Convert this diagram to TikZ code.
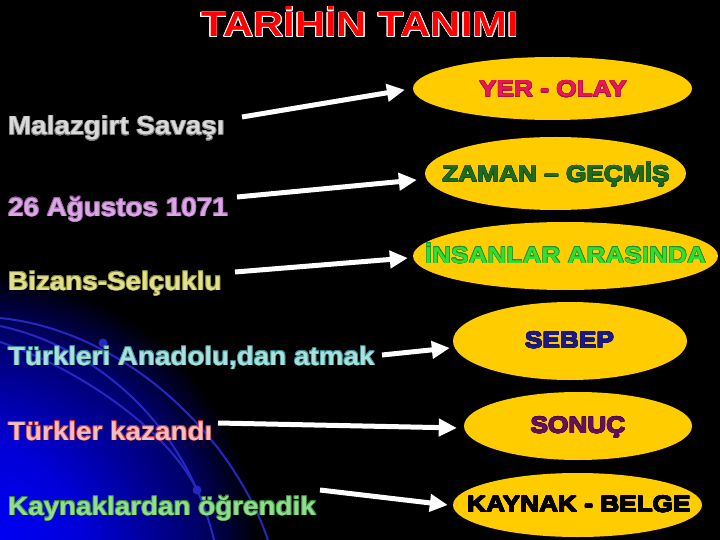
\documentclass[tikz,border=0pt]{standalone}
\usepackage{fontspec}
\usepackage[copies]{contour}
\usetikzlibrary{shapes.geometric,arrows.meta}
\newfontfamily\titlefont[FakeStretch=1.19]{Liberation Sans Bold}
\newfontfamily\ovalfont[FakeStretch=1.14]{Liberation Sans Bold}
\newfontfamily\leftfont[FakeStretch=1.07]{Liberation Sans Bold}
\definecolor{gold}{HTML}{FFCC00}
\definecolor{yerc}{HTML}{E8175D}
\definecolor{zamanc}{HTML}{1F6B1F}
\definecolor{insanc}{HTML}{33DD33}
\definecolor{sebepc}{HTML}{1A1A8C}
\definecolor{sonucc}{HTML}{66105E}
\definecolor{arcc}{HTML}{2626C0}
\definecolor{lA}{HTML}{D9D9D9}\definecolor{lAo}{HTML}{7A7A7A}
\definecolor{lB}{HTML}{D8A8E0}\definecolor{lBo}{HTML}{9A5AA8}
\definecolor{lC}{HTML}{E0E090}\definecolor{lCo}{HTML}{8A8A30}
\definecolor{lD}{HTML}{A8E0E0}\definecolor{lDo}{HTML}{3A8A8A}
\definecolor{lE}{HTML}{F0C0C0}\definecolor{lEo}{HTML}{C03040}
\definecolor{lF}{HTML}{90DD90}\definecolor{lFo}{HTML}{3A8A3A}
\contourlength{0.7pt}
\pgfdeclareradialshading{glow}{\pgfpoint{0bp}{0bp}}{color(0bp)=(blue); color(10bp)=(blue!85!black); color(20bp)=(blue!40!black); color(25bp)=(black); color(50bp)=(black)}
\tikzset{
  oval/.style={ellipse, fill=gold, draw=none, inner sep=0pt},
  otext/.style={font=\ovalfont\fontsize{23}{23}\selectfont, inner sep=0pt, anchor=base},
  ltext/.style={font=\leftfont\fontsize{26}{26}\selectfont, inner sep=0pt, anchor=base west},
  arr/.style={draw=white, line width=5pt, -{Triangle[length=18pt,width=17pt]}},
  arcline/.style={draw=arcc, line width=2pt}
}
\begin{document}
\begin{tikzpicture}[x=1pt,y=-1pt]
\useasboundingbox (0,0) rectangle (720,540);
\fill[black] (0,0) rectangle (720,540);
\begin{scope}
  \clip (0,0) rectangle (720,540);
  \shade[shading=glow] (-30,560) circle (290pt);
  \draw[arcline] (0,318) .. controls (120,330) and (230,430) .. (268,540);
  \draw[arcline] (0,326) .. controls (90,345) and (185,420) .. (214,540);
  \draw[arcline] (0,342) .. controls (70,365) and (165,425) .. (197,490);
  \fill[arcc] (103,343) circle (4.5pt);
  \fill[arcc] (197,490) circle (4.5pt);
\end{scope}

% title
\node[font=\titlefont\fontsize{35}{35}\selectfont, text=red, anchor=base, inner sep=0pt] (title) at (360,37) {\contourlength{0.6pt}\contour{white}{TARİHİN TANIMI}};

% left texts
\node[ltext, text=lA] (l1) at (8,135) {\contour{lAo}{Malazgirt Savaşı}};
\node[ltext, text=lB] (l2) at (8,216) {\contour{lBo}{26 Ağustos 1071}};
\node[ltext, text=lC] (l3) at (8,290) {\contour{lCo}{Bizans-Selçuklu}};
\node[ltext, text=lD] (l4) at (8,365) {\contour{lDo}{Türkleri Anadolu,dan atmak}};
\node[ltext, text=lE] (l5) at (8,440) {\contour{lEo}{Türkler kazandı}};
\node[ltext, text=lF] (l6) at (8,515) {\contour{lFo}{Kaynaklardan öğrendik}};

% ellipses
\node[oval, minimum width=279pt, minimum height=63pt] (e1) at (552.5,88.5) {};
\node[oval, minimum width=261pt, minimum height=73pt] (e2) at (555.5,173.5) {};
\node[oval, minimum width=305pt, minimum height=68pt] (e3) at (565.5,256) {};
\node[oval, minimum width=234pt, minimum height=78pt] (e4) at (570,341) {};
\node[oval, minimum width=228pt, minimum height=68pt] (e5) at (578,426) {};
\node[oval, minimum width=249pt, minimum height=64pt] (e6) at (577.5,505) {};

\node[otext, text=yerc] (t1) at (553,97) {\contourlength{0.45pt}\contour{yerc!75!black}{YER - OLAY}};
\node[otext, text=zamanc] (t2) at (556,182) {\contourlength{0.45pt}\contour{zamanc!75!black}{ZAMAN – GEÇMİŞ}};
\node[otext, text=insanc] (t3) at (565.5,263) {\contourlength{0.45pt}\contour{insanc!65!black}{İNSANLAR ARASINDA}};
\node[otext, text=sebepc] (t4) at (569.5,348) {\contourlength{0.45pt}\contour{sebepc!75!black}{SEBEP}};
\node[otext, text=sonucc] (t5) at (578,433) {\contourlength{0.45pt}\contour{sonucc!75!black}{SONUÇ}};
\node[otext, text=black] (t6) at (579,512) {\contourlength{0.45pt}\contour{black}{KAYNAK - BELGE}};

% arrows
\coordinate (a1) at (242,117);
\coordinate (a2) at (237,197);
\coordinate (a3) at (235,272);
\coordinate (a4) at (382,355);
\coordinate (a5) at (218,423);
\coordinate (a6) at (320,490);
\draw[arr, shorten >=8pt] (a1) -- (e1.west);
\draw[arr, shorten >=8pt] (a2) -- ([yshift=-5.7pt]e2.west);
\draw[arr, shorten >=5pt] (a3) -- ([yshift=-1.6pt]e3.west);
\draw[arr, shorten >=3pt] (a4) -- ([yshift=-6.7pt]e4.west);
\draw[arr, shorten >=7pt] (a5) -- ([yshift=-2.1pt]e5.west);
\draw[arr, shorten >=5pt] (a6) -- ([yshift=-0.6pt]e6.west);
\end{tikzpicture}
\end{document}
